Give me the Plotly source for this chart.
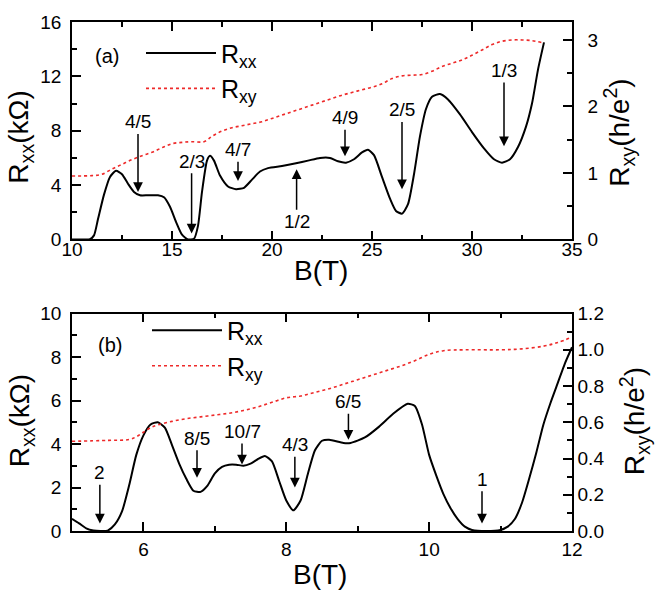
import plotly.graph_objects as go

# ---------------- Panel (a) data ----------------
B_a_xx = [10.0, 10.5, 10.9, 11.1, 11.3, 11.6, 11.9, 12.2, 12.5, 12.8, 13.1, 13.4, 13.8, 14.3, 14.6,
          14.9, 15.2, 15.5, 15.8, 16.1, 16.3, 16.5, 16.75, 16.9, 17.1, 17.4, 17.8, 18.2, 18.6, 19.0,
          19.4, 19.8, 20.5, 21.2, 21.8, 22.4, 22.9, 23.3, 23.7, 24.1, 24.5, 24.8, 25.1, 25.5, 25.9,
          26.2, 26.5, 26.8, 27.1, 27.4, 27.7, 28.0, 28.4, 28.8, 29.4, 30.0, 30.6, 31.1, 31.5, 31.9,
          32.3, 32.7, 33.0, 33.3, 33.6]
R_a_xx = [0.0, 0.0, 0.02, 0.3, 1.5, 3.3, 4.6, 5.05, 4.8, 4.1, 3.5, 3.25, 3.25, 3.25, 3.1,
          2.4, 1.3, 0.35, 0.0, 0.05, 1.0, 3.5, 5.8, 6.15, 5.8, 4.7, 3.9, 3.7, 3.8, 4.4,
          5.0, 5.25, 5.4, 5.6, 5.8, 6.0, 6.0, 5.75, 5.65, 5.9, 6.4, 6.6, 6.2, 4.6, 3.0,
          2.1, 1.9, 2.6, 4.8, 7.6, 9.6, 10.5, 10.7, 10.3, 9.2, 7.9, 6.7, 5.9, 5.65, 5.9,
          6.8, 8.3, 10.0, 12.5, 14.5]

B_a_xy = [10.0, 11.0, 11.5, 12.0, 12.5, 13.0, 13.5, 14.0, 14.5, 15.0, 15.5, 16.0, 16.6, 17.0,
          17.5, 18.0, 18.5, 19.0, 19.5, 20.0, 20.5, 21.0, 21.5, 22.0, 22.5, 23.0, 23.5, 24.0,
          24.5, 25.0, 25.5, 26.0, 26.5, 27.0, 27.5, 28.0, 28.5, 29.0, 29.5, 30.0, 30.5, 31.0,
          31.5, 32.0, 32.5, 33.0, 33.5]
R_a_xy = [0.955, 0.96, 0.98, 1.06, 1.13, 1.2, 1.26, 1.31, 1.38, 1.44, 1.46, 1.47, 1.47, 1.55,
          1.63, 1.68, 1.71, 1.74, 1.77, 1.82, 1.87, 1.92, 1.97, 2.02, 2.07, 2.12, 2.17, 2.21,
          2.25, 2.29, 2.34, 2.42, 2.46, 2.47, 2.48, 2.53, 2.6, 2.65, 2.7, 2.77, 2.85, 2.93,
          2.98, 3.0, 3.0, 2.99, 2.96]

# arrow marks for panel (a)
lab_a = ["4/5", "2/3", "4/7", "1/2", "4/9", "2/5", "1/3"]
lab_a_B = [13.3, 15.98, 18.3, 21.23, 23.65, 26.5, 31.6]
lab_a_tip = [3.5, 0.44, 4.3, 5.16, 6.13, 3.7, 6.86]
lab_a_text = [8.65, 5.75, 6.6, 1.3, 8.95, 9.53, 12.44]

# ---------------- Panel (b) data ----------------
B_b_xx = [5.0, 5.1, 5.2, 5.3, 5.4, 5.5, 5.6, 5.7, 5.8, 5.9, 6.0, 6.1, 6.2, 6.3, 6.4, 6.5, 6.6,
          6.7, 6.8, 6.9, 7.0, 7.1, 7.2, 7.3, 7.4, 7.5, 7.6, 7.7, 7.8, 7.9, 8.0, 8.1, 8.2, 8.3,
          8.4, 8.5, 8.6, 8.8, 8.9, 9.1, 9.3, 9.5, 9.7, 9.8, 9.9, 10.0, 10.1, 10.2, 10.3, 10.4,
          10.5, 10.6, 10.8, 11.0, 11.1, 11.2, 11.3, 11.4, 11.5, 11.6, 11.7, 11.8, 11.9, 12.0]
R_b_xx = [0.56, 0.35, 0.12, 0.02, 0.0, 0.02, 0.3, 0.9, 2.1, 3.5, 4.4, 4.9, 5.0, 4.75, 3.95, 3.1, 2.4,
          1.85, 1.8, 2.1, 2.65, 2.95, 3.05, 3.05, 3.0, 3.1, 3.3, 3.45, 3.2, 2.3, 1.4, 0.95, 1.4, 2.6,
          3.7, 4.15, 4.2, 4.05, 4.05, 4.3, 4.8, 5.4, 5.85, 5.75, 4.9, 3.5, 2.55, 1.7, 1.05, 0.55,
          0.2, 0.05, 0.0, 0.05, 0.2, 0.55, 1.3, 2.4, 3.6, 4.9, 5.9, 6.8, 7.7, 8.45]

B_b_xy = [5.0, 5.5, 5.8, 5.9, 6.0, 6.1, 6.2, 6.4, 6.6, 6.8, 7.0, 7.2, 7.4, 7.6, 7.8, 8.0, 8.2,
          8.4, 8.6, 8.8, 9.0, 9.2, 9.4, 9.6, 9.8, 10.0, 10.2, 10.5, 11.0, 11.3, 11.6, 11.8, 12.0]
R_b_xy = [0.495, 0.5, 0.505, 0.52, 0.545, 0.57, 0.585, 0.605, 0.62, 0.63, 0.64, 0.65, 0.665,
          0.685, 0.71, 0.735, 0.745, 0.765, 0.785, 0.81, 0.835, 0.86, 0.885, 0.91, 0.94, 0.975,
          0.995, 1.0, 1.0, 1.005, 1.02, 1.04, 1.07]

lab_b = ["2", "8/5", "10/7", "4/3", "6/5", "1"]
lab_b_B = [5.39, 6.75, 7.38, 8.12, 8.87, 10.74]
lab_b_tip = [0.34, 2.45, 3.06, 2.0, 4.2, 0.34]
lab_b_text = [2.68, 4.27, 4.58, 3.97, 5.94, 2.38]

FONT = "Arial, Liberation Sans, sans-serif"
RED = "#ee2a2a"

fig = go.Figure()
fig.add_trace(go.Scatter(x=B_a_xx, y=R_a_xx, mode="lines", name="R<sub>xx</sub>",
                         line=dict(color="black", width=2, shape="spline", smoothing=0.6),
                         xaxis="x", yaxis="y", legend="legend"))
fig.add_trace(go.Scatter(x=B_a_xy, y=R_a_xy, mode="lines", name="R<sub>xy</sub>",
                         line=dict(color=RED, width=1.6, dash="dot", shape="spline"),
                         xaxis="x", yaxis="y2", legend="legend"))
fig.add_trace(go.Scatter(x=B_b_xx, y=R_b_xx, mode="lines", name="R<sub>xx</sub>",
                         line=dict(color="black", width=2, shape="spline", smoothing=0.6),
                         xaxis="x2", yaxis="y3", legend="legend2"))
fig.add_trace(go.Scatter(x=B_b_xy, y=R_b_xy, mode="lines", name="R<sub>xy</sub>",
                         line=dict(color=RED, width=1.6, dash="dot", shape="spline"),
                         xaxis="x2", yaxis="y4", legend="legend2"))

ax_common = dict(showline=True, linecolor="black", linewidth=1.5, ticks="inside",
                 ticklen=9, tickwidth=1.5, tickcolor="black", showgrid=False, zeroline=False,
                 tickfont=dict(family=FONT, size=19, color="black"))

def minor(d):
    return dict(dtick=d, ticks="inside", ticklen=5, tickwidth=1.5, tickcolor="black", showgrid=False)

top_dom = [0.5728, 1.0]
bot_dom = [0.0, 0.4272]

fig.update_layout(
    width=658, height=590,
    margin=dict(l=72, r=86, t=16, b=59),
    paper_bgcolor="white", plot_bgcolor="white",
    font=dict(family=FONT, color="black"),
    xaxis=dict(domain=[0, 1], anchor="y", range=[10, 35], dtick=5, tick0=0,
               mirror="ticks", minor=minor(2.5), ticklabelstandoff=-8, **ax_common),
    yaxis=dict(domain=top_dom, anchor="x", range=[0, 16], dtick=4, tick0=0,
               minor=minor(2), ticklabelstandoff=5, **ax_common),
    yaxis2=dict(overlaying="y", side="right", anchor="x", range=[0, 3.27], dtick=1, tick0=0,
                minor=minor(0.5), ticklabelstandoff=10, **ax_common),
    xaxis2=dict(domain=[0, 1], anchor="y3", range=[5, 12], dtick=2, tick0=0,
                mirror="ticks", minor=minor(1), **ax_common),
    yaxis3=dict(domain=bot_dom, anchor="x2", range=[0, 10], dtick=2, tick0=0,
                minor=minor(1), ticklabelstandoff=5, **ax_common),
    yaxis4=dict(overlaying="y3", side="right", anchor="x2", range=[0, 1.2], dtick=0.2, tick0=0,
                tickformat=".1f", minor=minor(0.1), **ax_common),
    legend=dict(x=0.138, y=0.984, xanchor="left", yanchor="top", bgcolor="rgba(0,0,0,0)",
                font=dict(family=FONT, size=25, color="black"), itemwidth=70,
                tracegroupgap=0),
    legend2=dict(x=0.15, y=0.439, xanchor="left", yanchor="top", bgcolor="rgba(0,0,0,0)",
                 font=dict(family=FONT, size=25, color="black"), itemwidth=70,
                 tracegroupgap=0),
)

annos = []
for t, b, tip, ty in zip(lab_a, lab_a_B, lab_a_tip, lab_a_text):
    annos.append(dict(x=b, y=tip, ax=b, ay=ty, xref="x", yref="y", axref="x", ayref="y",
                      text=t, showarrow=True, arrowhead=2, arrowsize=1.3, arrowwidth=1.5,
                      arrowcolor="black", font=dict(family=FONT, size=19, color="black")))
for t, b, tip, ty in zip(lab_b, lab_b_B, lab_b_tip, lab_b_text):
    annos.append(dict(x=b, y=tip, ax=b, ay=ty, xref="x2", yref="y3", axref="x2", ayref="y3",
                      text=t, showarrow=True, arrowhead=2, arrowsize=1.3, arrowwidth=1.5,
                      arrowcolor="black", font=dict(family=FONT, size=19, color="black")))

title_font = dict(family=FONT, size=28, color="black")
P = dict(xref="paper", yref="paper", showarrow=False, xanchor="center", yanchor="middle")
annos += [
    dict(text="(a)", x=(107 - 72) / 500, y=(531 - 50) / 515,
         font=dict(family=FONT, size=20, color="black"), **P),
    dict(text="(b)", x=(110 - 72) / 500, y=(531 - 343) / 515,
         font=dict(family=FONT, size=20, color="black"), **P),
    dict(text="B(T)", x=(321 - 72) / 500, y=(531 - 267) / 515, font=title_font, **P),
    dict(text="B(T)", x=(320 - 72) / 500, y=(531 - 575) / 515, font=title_font, **P),
    dict(text="R<sub>xx</sub>(kΩ)", x=(21 - 72) / 500, y=(531 - 133) / 515,
         textangle=-90, font=title_font, **P),
    dict(text="R<sub>xx</sub>(kΩ)", x=(21 - 72) / 500, y=(531 - 420) / 515,
         textangle=-90, font=title_font, **P),
    dict(text="R<sub>xy</sub>(h/e<sup>2</sup>)", x=(619 - 72) / 500, y=(531 - 128) / 515,
         textangle=-90, font=title_font, **P),
    dict(text="R<sub>xy</sub>(h/e<sup>2</sup>)", x=(635 - 72) / 500, y=(531 - 420) / 515,
         textangle=-90, font=title_font, **P),
]
fig.update_layout(annotations=annos)

fig.write_html("out.html")
